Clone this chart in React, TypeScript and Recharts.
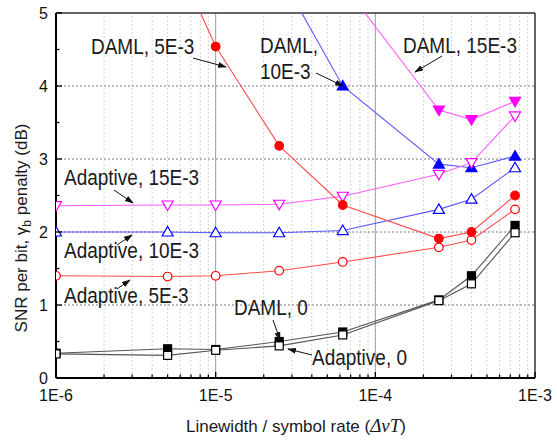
import React from 'react';
import { LineChart, Line, XAxis, YAxis, ReferenceLine } from 'recharts';

// linewidth / symbol rate values used in the simulation
const xValues = [1e-6, 5e-6, 1e-5, 2.5e-5, 6.25e-5, 2.5e-4, 4e-4, 7.5e-4];

// SNR per bit penalty (dB); null = not simulated, > 5 = above the plot
const damlZero = [0.34, 0.4, 0.39, 0.5, 0.63, 1.07, 1.4, 2.09];
const adaptiveZero = [0.33, 0.31, 0.38, 0.44, 0.59, 1.06, 1.29, 1.99];
const daml5 = [null, 6.0, 4.54, 3.18, 2.37, 1.91, 2.0, 2.5];
const adaptive5 = [1.4, 1.39, 1.4, 1.47, 1.59, 1.79, 1.89, 2.31];
const daml10 = [null, null, null, 5.55, 4.0, 2.93, 2.88, 3.04];
const adaptive10 = [2.0, 2.0, 1.99, 1.99, 2.02, 2.31, 2.45, 2.88];
const daml15 = [null, null, null, null, 5.4, 3.67, 3.54, 3.79];
const adaptive15 = [2.36, 2.37, 2.37, 2.38, 2.49, 2.79, 2.95, 3.59];

const xMajorTicks = [1e-6, 1e-5, 1e-4, 1e-3];
const xTickLabels = ['1E-6', '1E-5', '1E-4', '1E-3'];
const xMinorSteps = [2, 3, 4, 5, 6, 7, 8, 9];
const yTicks = [0, 0.5, 1, 1.5, 2, 2.5, 3, 3.5, 4, 4.5, 5];
const yGridValues = [1, 2, 3, 4];

const xMinorTicks = xMajorTicks.slice(0, 3).flatMap((d) => xMinorSteps.map((m) => m * d));
const xAllTicks = [...xMajorTicks, ...xMinorTicks].sort((a, b) => a - b);

const data = xValues.map((x, i) => ({
  x,
  damlZero: damlZero[i],
  adaptiveZero: adaptiveZero[i],
  daml5: daml5[i],
  adaptive5: adaptive5[i],
  daml10: daml10[i],
  adaptive10: adaptive10[i],
  daml15: daml15[i],
  adaptive15: adaptive15[i],
}));

const FONT = '"Liberation Sans", Arial, sans-serif';

const XTick = (props: any) => {
  const { x, y, payload } = props;
  const idx = xMajorTicks.findIndex((v) => Math.abs(v - payload.value) / v < 1e-6);
  const major = idx >= 0;
  return (
    <g>
      <line x1={x} x2={x} y1={y} y2={y - (major ? 6 : 3.5)} stroke="#000" strokeWidth={1.3} />
      {major && (
        <text x={x} y={y + 23} textAnchor="middle" fontSize={16} fill="#111" fontFamily={FONT}>
          {xTickLabels[idx]}
        </text>
      )}
    </g>
  );
};

const YTick = (props: any) => {
  const { x, y, payload } = props;
  const major = Number.isInteger(payload.value);
  return (
    <g>
      <line x1={x} x2={x + (major ? 6 : 3.5)} y1={y} y2={y} stroke="#000" strokeWidth={1.3} />
      {major && (
        <text x={x - 8} y={y} dy="0.36em" textAnchor="end" fontSize={16} fill="#111" fontFamily={FONT}>
          {payload.value}
        </text>
      )}
    </g>
  );
};

type Shape = 'circle' | 'up' | 'down' | 'square';

const makeDot = (shape: Shape, color: string, filled: boolean) => (props: any) => {
  const { cx, cy, value, index } = props;
  const key = `dot-${index}`;
  if (value == null || value > 5 || cx == null || cy == null) return <g key={key} />;
  const fill = filled ? color : '#fff';
  const sw = 1.2;
  if (shape === 'circle') return <circle key={key} cx={cx} cy={cy} r={4.3} fill={fill} stroke={color} strokeWidth={sw} />;
  if (shape === 'square') return <rect key={key} x={cx - 4} y={cy - 4} width={8} height={8} fill={fill} stroke={color} strokeWidth={sw} />;
  if (shape === 'up')
    return <path key={key} d={`M${cx},${cy - 5.5} L${cx + 5.5},${cy + 4} L${cx - 5.5},${cy + 4} Z`} fill={fill} stroke={color} strokeWidth={sw} />;
  return <path key={key} d={`M${cx},${cy + 5.5} L${cx + 5.5},${cy - 4} L${cx - 5.5},${cy - 4} Z`} fill={fill} stroke={color} strokeWidth={sw} />;
};

const series = [
  { key: 'daml15', line: '#ff5cff', color: '#ff00ff', shape: 'down' as Shape, filled: true },
  { key: 'daml10', line: '#5a5aff', color: '#0000ff', shape: 'up' as Shape, filled: true },
  { key: 'adaptive15', line: '#ff5cff', color: '#ff00ff', shape: 'down' as Shape, filled: false },
  { key: 'adaptive10', line: '#5a5aff', color: '#0000ff', shape: 'up' as Shape, filled: false },
  { key: 'adaptive5', line: '#ff4a4a', color: '#ff0000', shape: 'circle' as Shape, filled: false },
  { key: 'daml5', line: '#ff4a4a', color: '#ff0000', shape: 'circle' as Shape, filled: true },
  { key: 'damlZero', line: '#555', color: '#000', shape: 'square' as Shape, filled: true },
  { key: 'adaptiveZero', line: '#555', color: '#000', shape: 'square' as Shape, filled: false },
];

const annotations = [
  { lines: ['DAML, 5E-3'], x: 91, y: 54, arrow: [193, 58, 226, 67] },
  { lines: ['DAML,', '10E-3'], x: 260, y: 53, arrow: [316, 73, 343, 86] },
  { lines: ['DAML, 15E-3'], x: 403, y: 53, arrow: [442, 56, 415, 72] },
  { lines: ['Adaptive, 15E-3'], x: 64, y: 185, arrow: [114, 190, 133, 203] },
  { lines: ['Adaptive, 10E-3'], x: 64, y: 258, arrow: [117, 245, 132, 235] },
  { lines: ['Adaptive, 5E-3'], x: 64, y: 303, arrow: [117, 289, 130, 280] },
  { lines: ['DAML, 0'], x: 234, y: 315, arrow: [273, 320, 280, 340] },
  { lines: ['Adaptive, 0'], x: 312, y: 365, arrow: [312, 355, 288, 349] },
];

export default function App() {
  return (
    <div style={{ position: 'absolute', left: 0, top: 0, width: 557, height: 440, background: '#fff' }}>
      <LineChart width={557} height={440} data={data} margin={{ top: 13, right: 22, left: 0, bottom: 0 }}>
        <XAxis
          dataKey="x"
          type="number"
          scale="log"
          domain={[1e-6, 1e-3]}
          ticks={xAllTicks}
          interval={0}
          allowDataOverflow
          height={62}
          tickSize={0}
          tickMargin={0}
          tickLine={false}
          tick={<XTick />}
          axisLine={{ stroke: '#000', strokeWidth: 2 }}
        />
        <YAxis
          type="number"
          domain={[0, 5]}
          ticks={yTicks}
          interval={0}
          allowDataOverflow
          width={56}
          tickSize={0}
          tickMargin={0}
          tickLine={false}
          tick={<YTick />}
          axisLine={{ stroke: '#000', strokeWidth: 2 }}
        />
        {xMinorTicks.map((v) => (
          <ReferenceLine key={`vx-${v}`} x={v} stroke="#d4d4d4" strokeDasharray="2 2" strokeWidth={1} />
        ))}
        {xMajorTicks.slice(1, 3).map((v) => (
          <ReferenceLine key={`vX-${v}`} x={v} stroke="#9a9a9a" strokeWidth={1} />
        ))}
        {yGridValues.map((v) => (
          <ReferenceLine key={`hy-${v}`} y={v} stroke="#7a7a7a" strokeDasharray="2 2" strokeWidth={1} />
        ))}
        <ReferenceLine y={5} stroke="#333" strokeWidth={1.5} />
        <ReferenceLine x={1e-3} stroke="#333" strokeWidth={1.5} />
        {series.map((s) => (
          <Line
            key={s.key}
            dataKey={s.key}
            type="linear"
            stroke={s.line}
            strokeWidth={1.1}
            dot={makeDot(s.shape, s.color, s.filled)}
            activeDot={false}
            isAnimationActive={false}
          />
        ))}
      </LineChart>
      <svg
        width={557}
        height={440}
        style={{ position: 'absolute', left: 0, top: 0, pointerEvents: 'none' }}
      >
        <defs>
          <marker id="arrowHead" markerUnits="userSpaceOnUse" markerWidth={9} markerHeight={6} refX={8} refY={3} orient="auto">
            <path d="M0,0 L9,3 L0,6 Z" fill="#111" />
          </marker>
        </defs>
        {annotations.map((a, i) => (
          <g key={i}>
            {a.lines.map((t, j) => (
              <text
                key={j}
                transform={`translate(${a.x}, ${a.y + j * 26}) scale(1, 1.12)`}
                fontSize={19}
                fill="#1a1a1a"
                fontFamily={FONT}
              >
                {t}
              </text>
            ))}
            <line
              x1={a.arrow[0]}
              y1={a.arrow[1]}
              x2={a.arrow[2]}
              y2={a.arrow[3]}
              stroke="#111"
              strokeWidth={1}
              markerEnd="url(#arrowHead)"
            />
          </g>
        ))}
        <text
          transform="translate(27, 228) rotate(-90)"
          textAnchor="middle"
          fontSize={17}
          fill="#1a1a1a"
          fontFamily={FONT}
        >
          SNR per bit, γ
          <tspan fontSize={12} dy={4}>b</tspan>
          <tspan dy={-4}> penalty (dB)</tspan>
        </text>
        <text x={296} y={432} textAnchor="middle" fontSize={17} fill="#1a1a1a" fontFamily={FONT}>
          Linewidth / symbol rate (
          <tspan fontFamily='"Liberation Serif", "DejaVu Serif", serif' fontStyle="italic" fontSize={19}>
            ΔνT
          </tspan>
          )
        </text>
      </svg>
    </div>
  );
}
